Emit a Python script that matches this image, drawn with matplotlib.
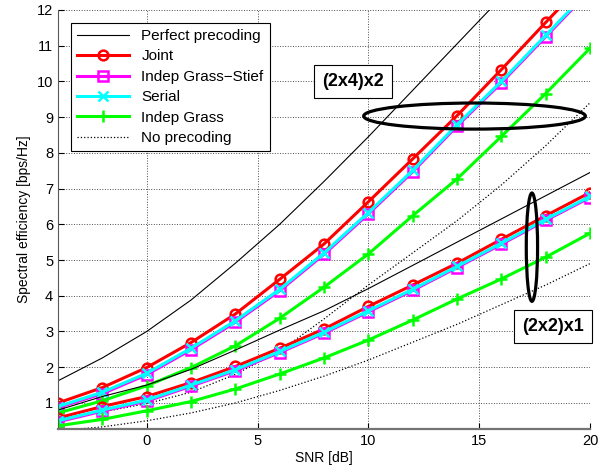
import numpy as np
from matplotlib import pyplot as plt
from matplotlib.patches import Ellipse

plt.rcParams['font.family'] = ['Liberation Sans', 'DejaVu Sans']
plt.rcParams['font.size'] = 10

snr = np.array([-4, -2, 0, 2, 4, 6, 8, 10, 12, 14, 16, 18, 20])

# (2x4)x2
perfect_24 = np.array([1.62, 2.26, 3.0, 3.88, 4.91, 6.0, 7.2, 8.45, 9.75, 11.05, 12.35, 13.65, 14.95])
joint_24 = np.array([1.0, 1.43, 1.99, 2.69, 3.49, 4.46, 5.45, 6.63, 7.83, 9.04, 10.33, 11.65, 12.95])
stief_24 = np.array([0.87, 1.26, 1.79, 2.49, 3.26, 4.14, 5.16, 6.29, 7.47, 8.75, 9.96, 11.25, 12.54])
serial_24 = np.array([0.9, 1.3, 1.83, 2.53, 3.3, 4.18, 5.2, 6.33, 7.51, 8.79, 10.0, 11.29, 12.58])
grass_24 = np.array([0.72, 1.06, 1.48, 1.99, 2.6, 3.37, 4.24, 5.17, 6.24, 7.27, 8.46, 9.66, 10.93])
nopre_24 = np.array([0.55, 0.75, 0.98, 1.3, 1.8, 2.45, 3.35, 4.3, 5.2, 6.1, 7.1, 8.2, 9.4])

# (2x2)x1
perfect_22 = np.array([0.8, 1.18, 1.5, 1.94, 2.48, 3.04, 3.58, 4.2, 4.85, 5.5, 6.15, 6.8, 7.45])
joint_22 = np.array([0.58, 0.9, 1.18, 1.57, 2.02, 2.53, 3.07, 3.7, 4.3, 4.91, 5.58, 6.24, 6.89])
stief_22 = np.array([0.47, 0.77, 1.05, 1.47, 1.9, 2.41, 2.95, 3.55, 4.15, 4.79, 5.44, 6.11, 6.75])
serial_22 = np.array([0.5, 0.8, 1.08, 1.5, 1.93, 2.44, 2.98, 3.58, 4.18, 4.82, 5.47, 6.14, 6.78])
grass_22 = np.array([0.36, 0.54, 0.78, 1.04, 1.39, 1.81, 2.26, 2.76, 3.32, 3.91, 4.47, 5.08, 5.75])
nopre_22 = np.array([0.22, 0.33, 0.5, 0.72, 1.0, 1.35, 1.75, 2.2, 2.7, 3.2, 3.75, 4.3, 4.9])

fig = plt.figure(figsize=(6.16, 4.74), dpi=100)
ax = fig.add_axes([0.0942, 0.0949, 0.8636, 0.8841])

lw = 2.2
ms = 7
for k, (perf, jo, st, se, gr, no) in enumerate([
        (perfect_24, joint_24, stief_24, serial_24, grass_24, nopre_24),
        (perfect_22, joint_22, stief_22, serial_22, grass_22, nopre_22)]):
    lab = (lambda s: s) if k == 0 else (lambda s: '_nolegend_')
    ax.plot(snr, perf, color='black', lw=0.8, label=lab('Perfect precoding'))
    ax.plot(snr, jo, color='red', lw=lw, marker='o', ms=ms, mfc='none', mew=1.8,
            label=lab('Joint'))
    ax.plot(snr, st, color='magenta', lw=lw, marker='s', ms=ms, mfc='none', mew=1.8,
            label=lab('Indep Grass\u2212Stief'))
    ax.plot(snr, se, color='cyan', lw=lw, marker='x', ms=ms, mew=1.8,
            label=lab('Serial'))
    ax.plot(snr, gr, color='lime', lw=lw, marker='+', ms=9, mew=1.8,
            label=lab('Indep Grass'))
    ax.plot(snr, no, color='black', lw=0.9, ls=':', label=lab('No precoding'))

# ellipses marking the two configurations
ax.add_patch(Ellipse((14.79, 9.03), 10.0, 0.73, fill=False, lw=2.3, color='black', zorder=6))
ax.add_patch(Ellipse((17.38, 5.36), 0.51, 3.03, fill=False, lw=2.3, color='black', zorder=6))

box = dict(boxstyle='square,pad=0.45', fc='white', ec='black', lw=0.8)
ax.text(9.32, 10.0, '(2x4)x2', fontsize=13, fontweight='bold', ha='center', va='center',
        bbox=box, zorder=7)
ax.text(18.33, 3.15, '(2x2)x1', fontsize=13, fontweight='bold', ha='center', va='center',
        bbox=box, zorder=7, clip_on=False)

ax.set_xlim(-4, 20)
ax.set_ylim(0.27, 12)
ax.set_xticks([0, 5, 10, 15, 20])
ax.set_yticks(np.arange(1, 13))
ax.grid(True, color='0.3', ls=':', lw=0.7)
ax.set_axisbelow(True)
ax.spines['top'].set_visible(False)
ax.spines['right'].set_visible(False)
ax.spines['left'].set_color('0.35')
ax.spines['bottom'].set_color('0.45')
ax.spines['bottom'].set_linewidth(1.6)
ax.tick_params(direction='in', length=4, colors='black', labelsize=10.5)
ax.set_xlabel('SNR [dB]', labelpad=2)
ax.set_ylabel('Spectral efficiency [bps/Hz]', labelpad=4)

leg = ax.legend(loc='upper left', handlelength=3.4, labelspacing=0.42, borderaxespad=0.85,
                fancybox=False, edgecolor='black', framealpha=1, fontsize=11)
leg.get_frame().set_linewidth(0.8)

plt.savefig('out.png', dpi=100)
